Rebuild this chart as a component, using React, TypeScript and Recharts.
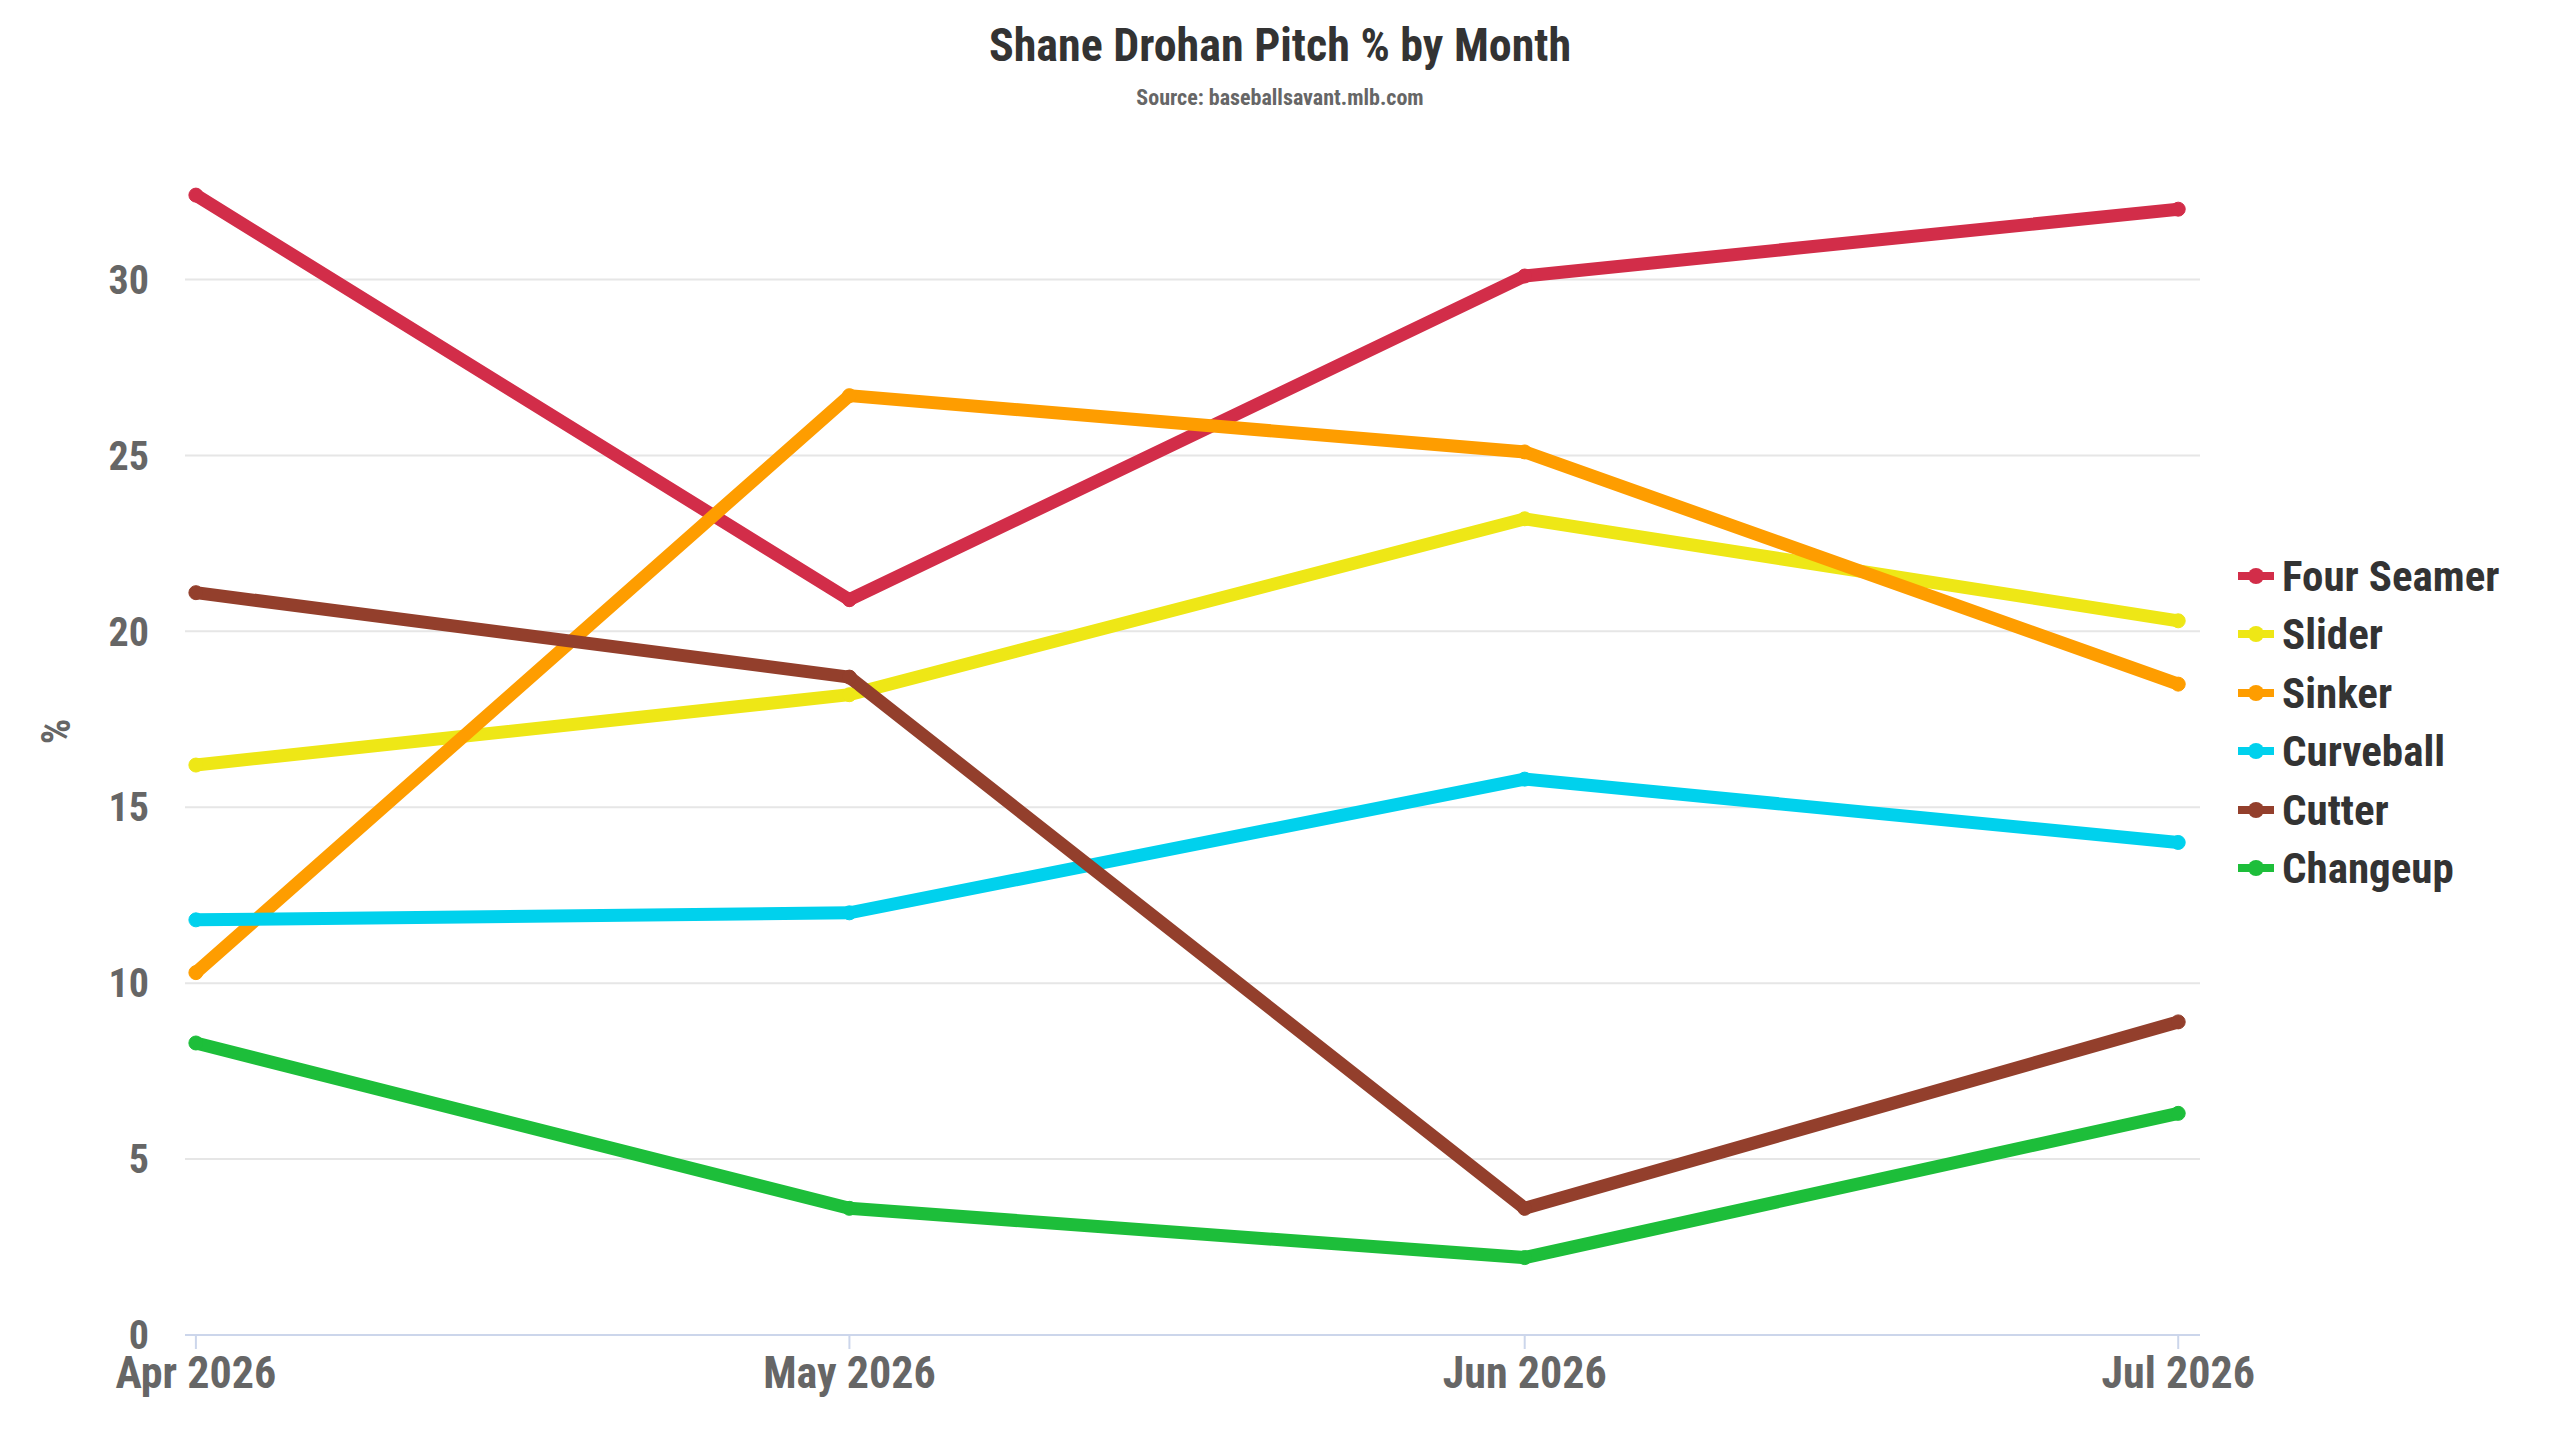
import { LineChart, Line, XAxis, YAxis, CartesianGrid } from "recharts";

const months = ["Apr 2026", "May 2026", "Jun 2026", "Jul 2026"];
// days since Apr 1 (time-scaled x axis)
const dayOffsets = [0, 30, 61, 91];

const fourSeamer = [32.4, 20.9, 30.1, 32.0];
const slider = [16.2, 18.2, 23.2, 20.3];
const sinker = [10.3, 26.7, 25.1, 18.5];
const curveball = [11.8, 12.0, 15.8, 14.0];
const cutter = [21.1, 18.7, 3.6, 8.9];
const changeup = [8.3, 3.6, 2.2, 6.3];

const yTicks = [0, 5, 10, 15, 20, 25, 30];

const series = [
  { key: "fourSeamer", name: "Four Seamer", color: "#d22d49", values: fourSeamer },
  { key: "slider", name: "Slider", color: "#eee716", values: slider },
  { key: "sinker", name: "Sinker", color: "#fe9d00", values: sinker },
  { key: "curveball", name: "Curveball", color: "#00d1ed", values: curveball },
  { key: "cutter", name: "Cutter", color: "#933f2c", values: cutter },
  { key: "changeup", name: "Changeup", color: "#1dbe3a", values: changeup },
];

const data = dayOffsets.map((d, i) => {
  const row: Record<string, number> = { day: d };
  series.forEach((s) => (row[s.key] = s.values[i]));
  return row;
});

const FONT = "'Roboto Condensed', 'Liberation Sans Narrow', 'Arial Narrow', Roboto, sans-serif";

function xLabel(v: number) {
  const i = dayOffsets.indexOf(v);
  return i >= 0 ? months[i] : "";
}

export default function App() {
  return (
    <div style={{ position: "absolute", left: 0, top: 0, width: 2560, height: 1440, fontFamily: FONT, background: "#fff" }}>
      <div style={{ position: "absolute", top: 18, width: 2560, textAlign: "center", fontSize: 46, fontWeight: 700, color: "#333", fontStretch: "condensed" }}>
        Shane Drohan Pitch % by Month
      </div>
      <div style={{ position: "absolute", top: 85, width: 2560, textAlign: "center", fontSize: 22, fontWeight: 700, color: "#666", fontStretch: "condensed" }}>
        Source: baseballsavant.mlb.com
      </div>
      <div style={{ position: "absolute", left: 44, top: 708, fontSize: 40, fontWeight: 700, color: "#666", transform: "rotate(-90deg)" }}>%</div>
      <LineChart width={2560} height={1440} data={data} margin={{ top: 174, right: 360, bottom: 0, left: 0 }}>
        <CartesianGrid horizontal vertical={false} stroke="#e6e6e6" strokeWidth={2} horizontalValues={yTicks} />
        <XAxis
          dataKey="day"
          type="number"
          domain={[-0.5, 92]}
          ticks={dayOffsets}
          tickFormatter={xLabel}
          height={105}
          stroke="#ccd6eb"
          strokeWidth={2}
          tickSize={14}
          tick={{ fill: "#666", fontSize: 44, fontWeight: 700, fontFamily: FONT }}
          dy={6}
        />
        <YAxis
          type="number"
          domain={[0, 33]}
          ticks={yTicks}
          width={185}
          axisLine={false}
          tickLine={false}
          tick={{ fill: "#666", fontSize: 40, fontWeight: 700, fontFamily: FONT }}
          dx={-28}
        />
        {series.map((s) => (
          <Line
            key={s.key}
            dataKey={s.key}
            name={s.name}
            stroke={s.color}
            strokeWidth={13}
            dot={{ r: 7, fill: s.color, stroke: s.color, strokeWidth: 1 }}
            activeDot={false}
            isAnimationActive={false}
          />
        ))}
      </LineChart>
      {series.map((s, i) => (
        <div key={s.key} style={{ position: "absolute", left: 2238, top: 576 + i * 58.4 - 28, height: 56, display: "flex", alignItems: "center" }}>
          <svg width={36} height={20} style={{ marginRight: 8 }}>
            <line x1={0} y1={10} x2={36} y2={10} stroke={s.color} strokeWidth={8} />
            <circle cx={18} cy={10} r={8} fill={s.color} />
          </svg>
          <span style={{ fontSize: 43, fontWeight: 700, color: "#333" }}>{s.name}</span>
        </div>
      ))}
    </div>
  );
}
